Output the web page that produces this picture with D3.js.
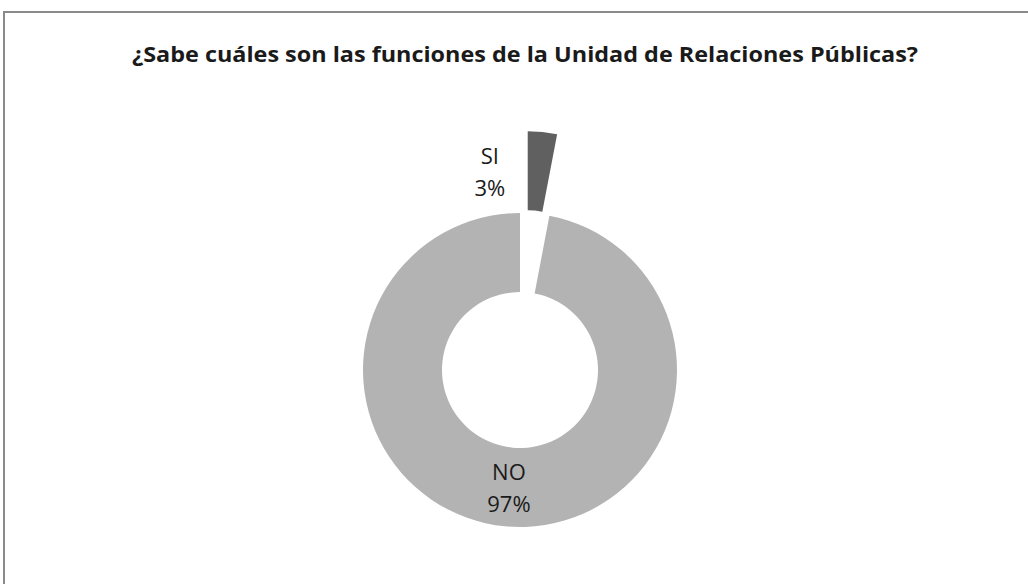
<!DOCTYPE html>
<html>
<head>
<meta charset="utf-8">
<script src="https://cdn.jsdelivr.net/npm/d3@7"></script>
<style>
  body { margin: 0; background: #fff; }
  text { font-family: "Open Sans", Lato, sans-serif; fill: #1a1a1a; }
</style>
</head>
<body>
<div id="chart"></div>
<script>
const width = 1028,
    height = 584;

// data
const title = "¿Sabe cuáles son las funciones de la Unidad de Relaciones Públicas?";
const categories = ["SI", "NO"];
const values = [3, 97];
const colors = ["#606060", "#b3b3b3"];

const cx = 520, cy = 370,      // donut centre
    outerR = 157, innerR = 78,
    explode = 82;              // how far the SI slice is pulled out

const svg = d3.select("#chart")
    .append("svg")
    .attr("width", width)
    .attr("height", height);

// chart frame (right and bottom edges fall outside the picture)
svg.append("rect")
    .attr("x", 4)
    .attr("y", 12)
    .attr("width", width + 20)
    .attr("height", height + 20)
    .attr("fill", "#fff")
    .attr("stroke", "#8a8a8a")
    .attr("stroke-width", 2);

svg.append("text")
    .attr("x", 525)
    .attr("y", 62)
    .attr("text-anchor", "middle")
    .attr("font-weight", "bold")
    .attr("font-size", 21)
    .attr("textLength", 786)
    .attr("lengthAdjust", "spacingAndGlyphs")
    .text(title);

const data = categories.map((c, i) => ({ cat: c, val: values[i], color: colors[i] }));

const pie = d3.pie()
    .value(d => d.val)
    .sort(null);

const arc = d3.arc()
    .innerRadius(innerR)
    .outerRadius(outerR);

const arcs = pie(data);

const g = svg.append("g")
    .attr("transform", `translate(${cx},${cy})`);

// offset for exploded slice
function shift(d, i) {
    if (i !== 0) return [0, 0];
    const a = (d.startAngle + d.endAngle) / 2;
    return [Math.sin(a) * explode, -Math.cos(a) * explode];
}

g.selectAll("path")
    .data(arcs)
    .join("path")
    .attr("d", arc)
    .attr("transform", (d, i) => `translate(${shift(d, i)})`)
    .attr("fill", d => d.data.color);

// labels: centroid of each slice, SI label is pushed to the left of its slice
const labels = g.selectAll("g.lbl")
    .data(arcs)
    .join("g")
    .attr("class", "lbl")
    .attr("transform", (d, i) => {
        const c = arc.centroid(d), s = shift(d, i);
        const dx = i === 0 ? -49 : 0;
        return `translate(${c[0] + s[0] + dx},${c[1] + s[1]})`;
    });

labels.append("text")
    .attr("text-anchor", "middle")
    .attr("font-size", 22)
    .attr("y", -7)
    .text(d => d.data.cat);

labels.append("text")
    .attr("text-anchor", "middle")
    .attr("font-size", 22)
    .attr("y", 25)
    .text(d => d.data.val + "%");
</script>
</body>
</html>
